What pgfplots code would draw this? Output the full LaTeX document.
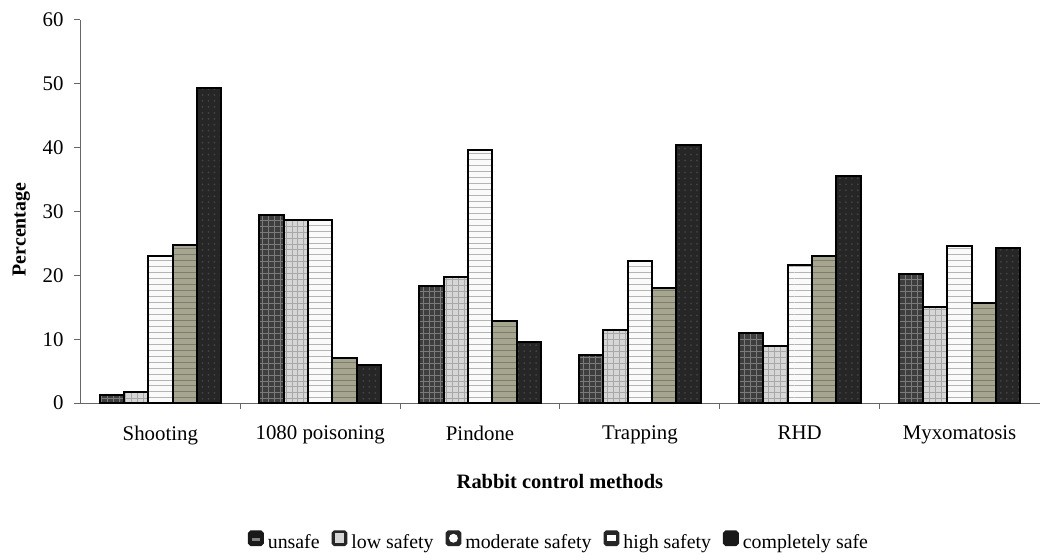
\documentclass[border=0pt]{standalone}
\usepackage{fontspec}
\setmainfont{Liberation Serif}
\usepackage{pgfplots}
\pgfplotsset{compat=1.18}
\usetikzlibrary{patterns}
\definecolor{cUnsafe}{HTML}{3E3E3E}
\definecolor{cUnsafeP}{HTML}{7A7A7A}
\definecolor{cLow}{HTML}{D6D6D6}
\definecolor{cLowP}{HTML}{A8A8A8}
\definecolor{cMod}{HTML}{FAFAFA}
\definecolor{cModP}{HTML}{B4B4B4}
\definecolor{cHigh}{HTML}{A6A690}
\definecolor{cHighP}{HTML}{7E7E6C}
\definecolor{cComp}{HTML}{262626}
\definecolor{cCompP}{HTML}{444444}
\definecolor{axc}{HTML}{666666}
\begin{document}
\begin{tikzpicture}
\begin{axis}[
  at={(0,0)}, anchor=south west,
  scale only axis, width=483pt, height=193pt,
  xmin=-0.5, xmax=5.5, ymin=0, ymax=60,
  ybar, bar width=12.25pt,
  axis lines*=left,
  axis line style={axc, line width=0.5pt},
  clip=false,
  ytick={0,10,...,60},
  ytick style={axc, line width=0.5pt},
  tick align=outside, major tick length=3pt,
  xtick={0.5,1.5,2.5,3.5,4.5}, xticklabels={},
  xtick style={axc, line width=0.5pt},
  extra x ticks={0,1,2,3,4,5},
  extra x tick labels={Shooting,1080 poisoning,Pindone,Trapping,RHD,Myxomatosis},
  extra x tick style={major tick length=0pt, tick label style={yshift=-8pt}},
  ticklabel style={font=\fontsize{10.5}{12}\selectfont},
  /pgf/number format/assume math mode=true,
  yticklabel style={xshift=-2pt},
  xlabel={\textbf{Rabbit control methods}},
  xlabel style={at={(rel axis cs:0.5,-0.205)}, anchor=center, font=\fontsize{10.3}{12}\selectfont},
  ylabel={\textbf{Percentage}},
  ylabel style={at={(rel axis cs:-0.0616,0.453)}, anchor=center, font=\fontsize{10}{12}\selectfont},
  legend style={at={(rel axis cs:0.5,-0.365)}, anchor=center, draw=none,
    font=\fontsize{10}{12}\selectfont, legend columns=-1,
    /tikz/every even column/.append style={column sep=4pt}},
  every axis plot/.append style={draw=black, line width=1pt},
]
\addplot[forget plot, bar shift=-24.5pt, fill=cUnsafe, postaction={pattern=grid, pattern color=cUnsafeP}]
  coordinates {(0,1.2) (1,29.5) (2,18.3) (3,7.5) (4,11.0) (5,20.2)};
\addplot[forget plot, bar shift=-12.25pt, fill=cLow, postaction={pattern=grid, pattern color=cLowP}]
  coordinates {(0,1.7) (1,28.6) (2,19.7) (3,11.5) (4,9.0) (5,15.0)};
\addplot[forget plot, bar shift=0pt, fill=cMod, postaction={pattern=horizontal lines, pattern color=cModP}]
  coordinates {(0,23.0) (1,28.6) (2,39.7) (3,22.2) (4,21.6) (5,24.6)};
\addplot[forget plot, bar shift=12.25pt, fill=cHigh, postaction={pattern=horizontal lines, pattern color=cHighP}]
  coordinates {(0,24.7) (1,7.0) (2,12.9) (3,18.0) (4,23.0) (5,15.7)};
\addplot[forget plot, bar shift=24.5pt, fill=cComp, postaction={pattern=dots, pattern color=cCompP}]
  coordinates {(0,49.3) (1,5.9) (2,9.6) (3,40.4) (4,35.5) (5,24.3)};
\addlegendimage{legend image code/.code={\fill[black!90, rounded corners=1pt] (0pt,-1pt) rectangle (7pt,6pt);
    \fill[gray] (2pt,1.6pt) rectangle (5pt,2.3pt);}}
\addlegendentry{unsafe}
\addlegendimage{legend image code/.code={\fill[black!85, rounded corners=1pt] (0pt,-1pt) rectangle (7pt,6pt);
    \fill[cLow] (1.8pt,0.6pt) rectangle (5.2pt,4.4pt);}}
\addlegendentry{low safety}
\addlegendimage{legend image code/.code={\fill[black!85, rounded corners=1pt] (0pt,-1pt) rectangle (7pt,6pt);
    \fill[white] (3.5pt,2.5pt) circle (1.7pt);}}
\addlegendentry{moderate safety}
\addlegendimage{legend image code/.code={\fill[black!85, rounded corners=1pt] (0pt,-1pt) rectangle (7pt,6pt);
    \fill[white] (1.8pt,1.4pt) rectangle (5.2pt,2.0pt);
    \fill[white] (1.8pt,2.9pt) rectangle (5.2pt,3.5pt);}}
\addlegendentry{high safety}
\addlegendimage{legend image code/.code={\fill[black!90, rounded corners=1pt] (0pt,-1pt) rectangle (7pt,6pt);}}
\addlegendentry{completely safe}
\end{axis}
\path[use as bounding box] (-40.5pt,-76pt) rectangle (479.5pt,203pt);
\end{tikzpicture}
\end{document}
